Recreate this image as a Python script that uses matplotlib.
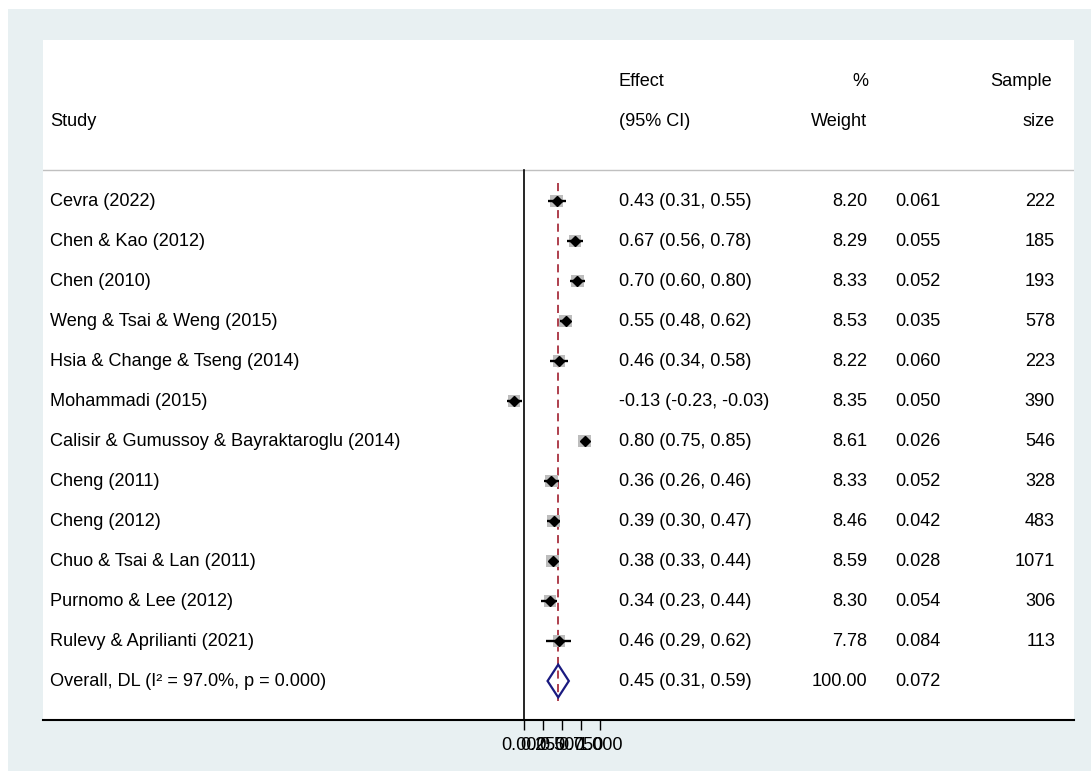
import numpy as np
import matplotlib
matplotlib.use("Agg")
from matplotlib import pyplot as plt
from matplotlib.patches import Rectangle, Polygon

plt.rcParams['font.family'] = ['Liberation Sans', 'DejaVu Sans']

# study data
studies = ['Cevra (2022)', 'Chen & Kao (2012)', 'Chen (2010)', 'Weng & Tsai & Weng (2015)',
           'Hsia & Change & Tseng (2014)', 'Mohammadi (2015)',
           'Calisir & Gumussoy & Bayraktaroglu (2014)', 'Cheng (2011)', 'Cheng (2012)',
           'Chuo & Tsai & Lan (2011)', 'Purnomo & Lee (2012)', 'Rulevy & Aprilianti (2021)']
effect = [0.43, 0.67, 0.70, 0.55, 0.46, -0.13, 0.80, 0.36, 0.39, 0.38, 0.34, 0.46]
ci_low = [0.31, 0.56, 0.60, 0.48, 0.34, -0.23, 0.75, 0.26, 0.30, 0.33, 0.23, 0.29]
ci_high = [0.55, 0.78, 0.80, 0.62, 0.58, -0.03, 0.85, 0.46, 0.47, 0.44, 0.44, 0.62]
weight = [8.20, 8.29, 8.33, 8.53, 8.22, 8.35, 8.61, 8.33, 8.46, 8.59, 8.30, 7.78]
se = ['0.061', '0.055', '0.052', '0.035', '0.060', '0.050', '0.026', '0.052', '0.042',
      '0.028', '0.054', '0.084']
sample_size = [222, 185, 193, 578, 223, 390, 546, 328, 483, 1071, 306, 113]

overall_label = 'Overall, DL (I² = 97.0%, p = 0.000)'
overall_effect = 0.45
overall_low = 0.31
overall_high = 0.59
overall_weight = '100.00'
overall_se = '0.072'

xticks = [0.0, 0.25, 0.5, 0.75, 1.0]

W, H = 1091, 771
fig = plt.figure(figsize=(W / 100, H / 100), dpi=100)
fig.patch.set_facecolor('white')
# outer light background (behind everything)
fig.add_artist(Rectangle((8 / W, 0), (W - 8) / W, (H - 9) / H, transform=fig.transFigure,
                         facecolor='#E8F0F2', edgecolor='none', zorder=-10))

# inner white panel (pixels 43..1074 x 40..720)
px0, px1, py0, py1 = 43, 1074, 40, 720
ax = fig.add_axes([px0 / W, 1 - py1 / H, (px1 - px0) / W, (py1 - py0) / H])
ax.set_facecolor('white')

# x: 0 at pixel 524, 76 px per unit ; y: row i at pixel 201 + 40*i
x0px, xscale = 524, 76.0
ax.set_xlim((px0 - x0px) / xscale, (px1 - x0px) / xscale)
ax.set_ylim((py1 - 201) / 40, (py0 - 201) / 40)

def xpos(px):
    return (px - x0px) / xscale

fs = 13.1

for s in ['left', 'right', 'top']:
    ax.spines[s].set_visible(False)
ax.spines['bottom'].set_linewidth(1.5)
ax.set_yticks([])
ax.set_xticks(xticks)
ax.set_xticklabels(['%.3f' % t for t in xticks], fontsize=fs)
ax.tick_params(axis='x', length=7.5, width=1.0, pad=5)

n = len(studies)
rows = np.arange(n)
hdr_line = (170 - 201) / 40

# header
ax.text(xpos(50), -1.975, 'Study', fontsize=fs, va='center', ha='left')
ax.text(xpos(619), -2.975, 'Effect', fontsize=fs, va='center', ha='left')
ax.text(xpos(619), -1.975, '(95% CI)', fontsize=fs, va='center', ha='left')
ax.text(xpos(868), -2.975, '%', fontsize=fs, va='center', ha='right')
ax.text(xpos(867), -1.975, 'Weight', fontsize=fs, va='center', ha='right')
ax.text(xpos(1052), -2.975, 'Sample', fontsize=fs, va='center', ha='right')
ax.text(xpos(1055), -1.975, 'size', fontsize=fs, va='center', ha='right')
ax.axhline(hdr_line, color='#C0C0C0', lw=1.0)

# null line
ax.plot([0, 0], [hdr_line, (py1 - 201) / 40], color='black', lw=1.2, clip_on=False)
# overall effect dashed line
ax.plot([overall_effect, overall_effect], [-0.45, n + 0.5], color='#A8303F', lw=1.3,
        dashes=(4.5, 3))

# study markers
ax.scatter(effect, rows, s=np.array(weight) * 10, marker='s', color='#BDBDBD',
           edgecolors='none', zorder=3)
ax.hlines(rows, ci_low, ci_high, color='black', lw=1.7, zorder=4)
ax.plot(effect, rows, 'D', color='black', markersize=5, zorder=5)

# overall diamond
dh = 0.41
ax.add_patch(Polygon([(overall_low, n), (overall_effect, n - dh), (overall_high, n),
                      (overall_effect, n + dh)], closed=True, fill=False,
                     edgecolor='#1A1A80', lw=1.6, zorder=5))

# text columns
for i in range(n):
    ax.text(xpos(50), i + 0.025, studies[i], fontsize=fs, va='center', ha='left')
    ax.text(xpos(619), i + 0.025, '%.2f (%.2f, %.2f)' % (effect[i], ci_low[i], ci_high[i]),
            fontsize=fs, va='center', ha='left')
    ax.text(xpos(867), i + 0.025, '%.2f' % weight[i], fontsize=fs, va='center', ha='right')
    ax.text(xpos(895), i + 0.025, se[i], fontsize=fs, va='center', ha='left')
    ax.text(xpos(1055), i + 0.025, str(sample_size[i]), fontsize=fs, va='center', ha='right')

ax.text(xpos(50), n + 0.025, overall_label, fontsize=fs, va='center', ha='left')
ax.text(xpos(619), n + 0.025, '%.2f (%.2f, %.2f)' % (overall_effect, overall_low, overall_high),
        fontsize=fs, va='center', ha='left')
ax.text(xpos(867), n + 0.025, overall_weight, fontsize=fs, va='center', ha='right')
ax.text(xpos(895), n + 0.025, overall_se, fontsize=fs, va='center', ha='left')

fig.savefig('out.png', dpi=100, facecolor=fig.get_facecolor())
